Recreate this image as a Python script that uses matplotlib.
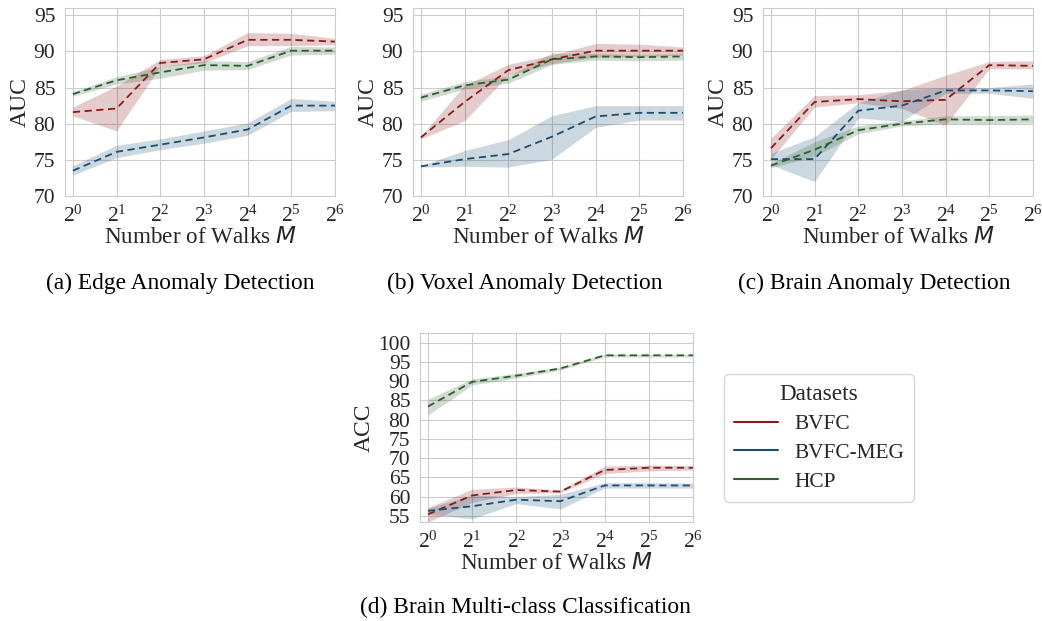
import numpy as np
import matplotlib
matplotlib.use("Agg")
import matplotlib.pyplot as plt
import seaborn as sns

sns.set_style("whitegrid")
plt.rcParams['font.family'] = ['Liberation Serif', 'DejaVu Serif']
plt.rcParams['mathtext.fontset'] = 'dejavusans'

walks = [1, 2, 4, 8, 16, 32, 64]
datasets = ["BVFC", "BVFC-MEG", "HCP"]
colors = {"BVFC": "#8B1A1A", "BVFC-MEG": "#1B4F72", "HCP": "#2E5E2E"}

# (a) Edge Anomaly Detection: mean, low, high
edge_bvfc = [81.6, 82.1, 88.4, 88.9, 91.6, 91.6, 91.35]
edge_bvfc_lo = [81.1, 79.0, 87.9, 88.4, 90.8, 90.8, 90.9]
edge_bvfc_hi = [82.3, 85.2, 88.9, 89.4, 92.6, 92.5, 91.8]
edge_meg = [73.5, 76.1, 77.1, 78.1, 79.2, 82.5, 82.5]
edge_meg_lo = [72.9, 75.3, 76.4, 77.3, 78.4, 81.7, 81.8]
edge_meg_hi = [74.2, 77.0, 77.9, 79.0, 80.1, 83.5, 83.1]
edge_hcp = [84.1, 86.0, 87.1, 88.1, 88.0, 90.1, 90.1]
edge_hcp_lo = [83.8, 85.5, 86.3, 87.4, 87.5, 89.5, 89.6]
edge_hcp_hi = [84.4, 86.5, 87.9, 88.7, 88.6, 90.7, 90.6]

# (b) Voxel Anomaly Detection
vox_bvfc = [78.1, 83.0, 87.4, 88.9, 90.1, 90.1, 90.1]
vox_bvfc_lo = [77.9, 80.4, 86.7, 88.3, 89.2, 89.3, 89.5]
vox_bvfc_hi = [78.3, 85.3, 88.2, 89.5, 91.1, 91.0, 90.6]
vox_meg = [74.1, 75.1, 75.8, 78.2, 81.0, 81.5, 81.5]
vox_meg_lo = [74.0, 74.1, 74.0, 75.1, 79.5, 80.5, 80.5]
vox_meg_hi = [74.2, 76.3, 77.8, 81.1, 82.5, 82.5, 82.5]
vox_hcp = [83.6, 85.3, 86.1, 88.9, 89.3, 89.2, 89.3]
vox_hcp_lo = [83.1, 84.8, 85.6, 88.2, 88.8, 88.7, 88.8]
vox_hcp_hi = [84.1, 85.8, 86.6, 89.8, 89.7, 89.6, 89.7]

# (c) Brain Anomaly Detection
brain_bvfc = [76.6, 83.0, 83.4, 83.1, 83.3, 88.1, 88.0]
brain_bvfc_lo = [75.1, 82.3, 82.9, 82.1, 79.8, 87.6, 87.6]
brain_bvfc_hi = [78.0, 83.9, 84.0, 84.6, 86.7, 88.6, 88.7]
brain_meg = [75.1, 75.1, 81.8, 82.5, 84.6, 84.6, 84.5]
brain_meg_lo = [74.3, 72.0, 80.8, 80.3, 84.2, 84.2, 83.5]
brain_meg_hi = [75.9, 78.2, 82.9, 84.7, 85.0, 85.0, 85.5]
brain_hcp = [74.2, 76.4, 79.1, 80.0, 80.6, 80.5, 80.6]
brain_hcp_lo = [73.9, 75.5, 78.6, 79.7, 80.0, 80.0, 80.1]
brain_hcp_hi = [74.5, 77.5, 79.7, 80.4, 81.1, 81.1, 81.2]

# (d) Brain Multi-class Classification
cls_bvfc = [55.4, 60.3, 61.7, 61.3, 66.9, 67.5, 67.5]
cls_bvfc_lo = [53.4, 58.5, 60.8, 61.0, 66.0, 66.7, 66.9]
cls_bvfc_hi = [57.2, 61.9, 62.5, 61.7, 67.9, 68.2, 68.0]
cls_meg = [56.3, 57.5, 59.2, 58.8, 62.9, 62.9, 62.9]
cls_meg_lo = [55.5, 54.2, 58.2, 56.8, 62.2, 62.2, 62.2]
cls_meg_hi = [57.0, 60.4, 60.0, 60.6, 63.6, 63.6, 63.5]
cls_hcp = [83.4, 89.8, 91.4, 93.3, 96.7, 96.7, 96.7]
cls_hcp_lo = [81.2, 89.0, 90.8, 92.9, 96.3, 96.3, 96.3]
cls_hcp_hi = [85.3, 90.6, 92.0, 93.7, 97.0, 97.0, 97.0]

panels = [
    ("(a) Edge Anomaly Detection", "AUC",
     [(edge_bvfc, edge_bvfc_lo, edge_bvfc_hi), (edge_meg, edge_meg_lo, edge_meg_hi),
      (edge_hcp, edge_hcp_lo, edge_hcp_hi)]),
    ("(b) Voxel Anomaly Detection", "AUC",
     [(vox_bvfc, vox_bvfc_lo, vox_bvfc_hi), (vox_meg, vox_meg_lo, vox_meg_hi),
      (vox_hcp, vox_hcp_lo, vox_hcp_hi)]),
    ("(c) Brain Anomaly Detection", "AUC",
     [(brain_bvfc, brain_bvfc_lo, brain_bvfc_hi), (brain_meg, brain_meg_lo, brain_meg_hi),
      (brain_hcp, brain_hcp_lo, brain_hcp_hi)]),
    ("(d) Brain Multi-class Classification", "ACC",
     [(cls_bvfc, cls_bvfc_lo, cls_bvfc_hi), (cls_meg, cls_meg_lo, cls_meg_hi),
      (cls_hcp, cls_hcp_lo, cls_hcp_hi)]),
]

W, H = 1042, 621
fig = plt.figure(figsize=(W / 100, H / 100), dpi=100)

# axes boxes in pixels: left, top, right, bottom
boxes = [(65, 8, 335, 196), (413, 8, 683, 196), (763, 8, 1033, 196), (420, 333, 693, 522)]
caption_pos = [(180, 283), (525, 283), (874, 283), (525, 607)]

for (title, ylab, series), box, cap in zip(panels, boxes, caption_pos):
    l, t, r, b = box
    ax = fig.add_axes([l / W, 1 - b / H, (r - l) / W, (b - t) / H])
    for name, (m, lo, hi) in zip(datasets, series):
        c = colors[name]
        ax.fill_between(walks, lo, hi, color=c, alpha=0.22, linewidth=0)
        ax.plot(walks, m, color=c, linestyle="--", linewidth=1.3, dashes=(4, 2.5))
    ax.set_xscale("log", base=2)
    ax.set_xlim(2 ** -0.18, 64)
    ax.set_xticks(walks)
    ax.set_xticklabels([r"$\mathdefault{2^{%d}}$" % k for k in range(7)])
    ax.minorticks_off()
    if ylab == "AUC":
        ax.set_ylim(70, 96)
        ax.set_yticks(np.arange(70, 96, 5))
    else:
        ax.set_ylim(53.4, 102.5)
        ax.set_yticks(np.arange(55, 101, 5))
    ax.tick_params(labelsize=15.5, colors="#262626", length=0)
    ax.tick_params(axis="x", pad=7)
    ax.tick_params(axis="y", pad=7)
    ax.set_ylabel(ylab, fontsize=17, color="#262626", labelpad=2)
    ax.set_xlabel("Number of Walks $M$", fontsize=16.7, color="#262626", labelpad=0)
    for s in ax.spines.values():
        s.set_color("#cccccc")
    fig.text(cap[0] / W, 1 - cap[1] / H, title, ha="center", va="center",
             fontsize=16.8, color="black")

handles = [plt.Line2D([], [], color=colors[n], linewidth=1.5) for n in datasets]
leg = fig.legend(handles, datasets, title="Datasets", loc="center",
                 bbox_to_anchor=(819 / W, 1 - 438 / H), fontsize=15.4, title_fontsize=16.7,
                 frameon=True, handlelength=2.05, handletextpad=0.75, borderpad=0.45,
                 labelspacing=0.42)
leg.get_frame().set_edgecolor("#cccccc")
for txt in leg.get_texts():
    txt.set_color("#262626")
leg.get_title().set_color("#262626")

fig.savefig("out.png", dpi=100)
